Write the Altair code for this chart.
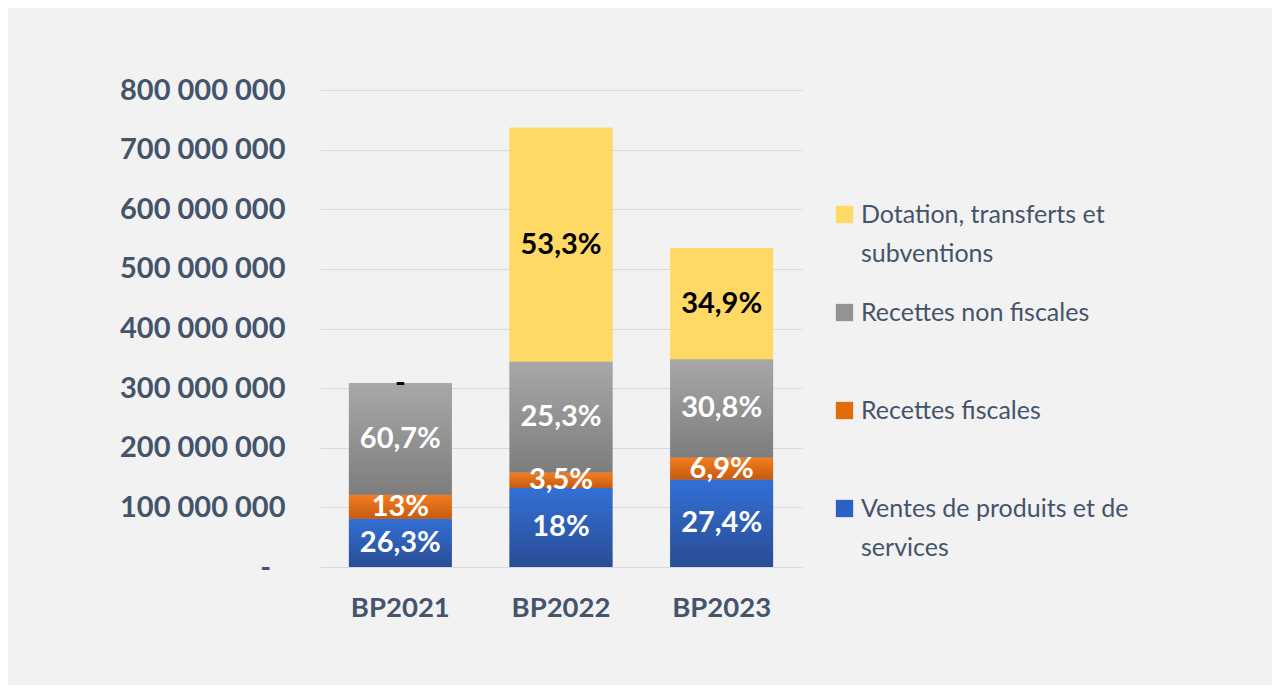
import altair as alt
import pandas as pd

cats = ["BP2021", "BP2022", "BP2023"]
series = ["Ventes de produits et de services", "Recettes fiscales",
          "Recettes non fiscales", "Dotation, transferts et subventions"]
ventes = [81_000_000, 132_500_000, 146_600_000]
fiscales = [40_100_000, 25_800_000, 36_900_000]
non_fiscales = [187_200_000, 186_200_000, 164_800_000]
dotation = [0, 392_300_000, 186_700_000]
lab_ventes = ["26,3%", "18%", "27,4%"]
lab_fiscales = ["13%", "3,5%", "6,9%"]
lab_non = ["60,7%", "25,3%", "30,8%"]
lab_dot = ["-", "53,3%", "34,9%"]

values = [ventes, fiscales, non_fiscales, dotation]
labels = [lab_ventes, lab_fiscales, lab_non, lab_dot]
text_colors = ["white", "white", "white", "black"]
solid = ["#2d60c4", "#e36c0a", "#939393", "#ffd966"]
grads = [("#3270d6", "#2a4c95"), ("#f57d1f", "#c55a11"),
         ("#a8a8a8", "#7d7d7d"), ("#ffd966", "#ffd966")]

rows = []
for i, s in enumerate(series):
    for j, c in enumerate(cats):
        rows.append({"cat": c, "serie": s, "value": values[i][j],
                     "label": labels[i][j], "ord": i, "tc": text_colors[i]})
df = pd.DataFrame(rows)

legend_order = list(reversed(series))
legend_colors = list(reversed(solid))

FONT = "Lato"
TXT = "#44546A"

xenc = alt.X("cat:N", sort=cats, title=None,
             scale=alt.Scale(paddingInner=0.36, paddingOuter=0.18),
             axis=alt.Axis(labelAngle=0, labelFont=FONT, labelFontSize=27.5,
                           labelFontWeight="bold", labelColor=TXT,
                           labelPadding=27, ticks=False, domain=False,
                           grid=False))
yscale = alt.Scale(domain=[0, 800_000_000], nice=False)

base = alt.Chart(df).transform_stack(
    stack="value", groupby=["cat"], as_=["y0", "y1"],
    sort=[alt.SortField("ord", order="ascending")]
).transform_calculate(ymid="(datum.y0 + datum.y1) / 2")

legend_bars = base.mark_bar().encode(
    x=xenc,
    y=alt.Y("y0:Q", scale=yscale, title=None,
            axis=alt.Axis(values=[0, 100e6, 200e6, 300e6, 400e6, 500e6, 600e6, 700e6, 800e6],
                          labelExpr="datum.value == 0 ? '-\u2002\u200b' : replace(format(datum.value, ',.0f'), regexp(',', 'g'), ' ')",
                          labelFont=FONT, labelFontSize=29, labelFontWeight="bold",
                          labelColor=TXT, labelPadding=35, ticks=False,
                          domain=False, gridColor="#d9d9d9", gridWidth=1)),
    y2="y1:Q",
    color=alt.Color("serie:N", scale=alt.Scale(domain=legend_order, range=legend_colors),
                    legend=alt.Legend(
                        title=None, orient="none", legendX=512, legendY=112,
                        symbolType="square", symbolSize=300, symbolStrokeWidth=0,
                        labelFont=FONT, labelFontSize=25, labelColor=TXT,
                        labelLimit=400, labelOffset=4, rowPadding=33,
                        labelExpr="datum.label == 'Dotation, transferts et subventions' ? ['Dotation, transferts et', 'subventions'] : datum.label == 'Ventes de produits et de services' ? ['Ventes de produits et de', 'services'] : [datum.label, '']")),
)

layers = [legend_bars]
for i, s in enumerate(series):
    top, bot = grads[i]
    g = alt.LinearGradient(gradient="linear", x1=0, y1=0, x2=0, y2=1,
                           stops=[alt.GradientStop(offset=0, color=top),
                                  alt.GradientStop(offset=1, color=bot)])
    layers.append(base.transform_filter(alt.datum.serie == s).mark_bar(color=g).encode(
        x=alt.X("cat:N", sort=cats), y=alt.Y("y0:Q"), y2="y1:Q"))

texts = base.mark_text(font=FONT, fontSize=29, fontWeight="bold", baseline="middle").encode(
    x=alt.X("cat:N", sort=cats),
    y=alt.Y("ymid:Q"),
    text="label:N",
    color=alt.Color("tc:N", scale=None),
)
layers.append(texts)

chart = alt.layer(*layers).properties(
    width=482, height=477,
    autosize=alt.AutoSizeParams(type="none"),
    padding={"left": 312, "top": 82, "right": 470, "bottom": 118},
    background="#f2f2f2",
).configure(
    style={"guide-label": {"lineHeight": 39}},
    view=alt.ViewConfig(strokeWidth=0, stroke="transparent"),
)

chart.save("out.html", embed_options={"renderer": "svg", "actions": False})
